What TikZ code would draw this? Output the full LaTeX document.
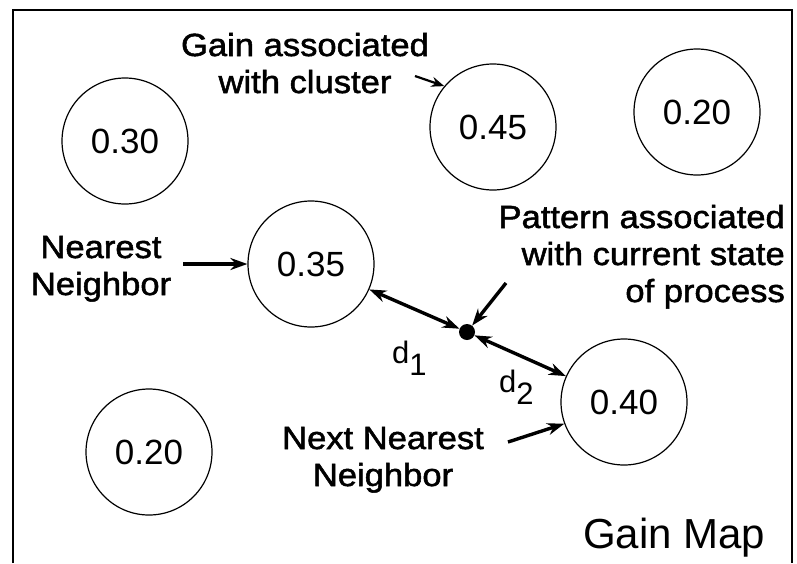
\documentclass[tikz,border=0pt]{standalone}
\usepackage{fontspec}
\setmainfont{Liberation Sans}
\newfontfamily\lblfont[FakeStretch=1.08,FakeBold=1.6]{Liberation Sans}
\usetikzlibrary{arrows.meta}
\begin{document}
\begin{tikzpicture}[x=1pt,y=-1pt,
  cluster/.style={draw, circle, line width=1.2pt, minimum size=126pt, inner sep=0pt,
    font=\fontsize{35}{40}\selectfont},
  lbl/.style={inner sep=0pt, align=center, font=\lblfont\fontsize{32}{37}\selectfont},
  dlbl/.style={inner sep=0pt, anchor=base west, font=\fontsize{31}{34}\selectfont},
  tip/.tip={Stealth[length=17pt,width=12pt]},
  pointer/.style={line width=3.4pt, -tip},
  dist/.style={line width=3.4pt, tip-tip}
]
\useasboundingbox (0,0) rectangle (797,563);
\fill[white] (0,0) rectangle (797,563);
% frame, open at the bottom
\draw[line width=1.6pt] (13,563) -- (13,10) -- (792,10) -- (792,563);

% clusters of the gain map
\node[cluster] (c30)  at (125,141) {0.30};
\node[cluster] (c45)  at (493,127) {0.45};
\node[cluster] (c20a) at (697,112) {0.20};
\node[cluster] (c35)  at (311,264) {0.35};
\node[cluster] (c40)  at (624,402) {0.40};
\node[cluster] (c20b) at (149,452) {0.20};

% current process state
\node[circle, fill, inner sep=0pt, minimum size=16pt] (p) at (467,332) {};

% labels (base anchor sits on the last line)
\node[lbl, anchor=base] (gain) at (305,93) {Gain associated\\with cluster};
\node[lbl, anchor=base] (nn) at (101,295) {Nearest\\Neighbor};
\node[lbl, anchor=base east, align=right] (pat) at (785,302) {Pattern associated\\with current state\\of process};
\node[lbl, anchor=base] (nnn) at (383,486) {Next Nearest\\Neighbor};
\node[dlbl] (d1) at (392,363) {d\raisebox{-12pt}{1}};
\node[dlbl] (d2) at (499,392) {d\raisebox{-12pt}{2}};
\node[inner sep=0pt, anchor=base west, font=\fontsize{42}{48}\selectfont] (title) at (583,548) {Gain Map};

% pointers
\coordinate (gt) at (415,76);
\coordinate (nt) at (183,264);
\coordinate (pt) at (506,283);
\coordinate (xt) at (508,442);
\draw[pointer, line width=2.2pt, -{Stealth[length=13pt,width=10pt]}] (gt) -- (c45.140);
\draw[pointer] (nt) -- (c35.west);
\draw[pointer] (pt) -- (p);
\draw[pointer] (xt) -- (c40.200);

% distances to the two nearest clusters
\draw[dist] (c35) -- (p);
\draw[dist] (p) -- (c40);
\end{tikzpicture}
\end{document}
